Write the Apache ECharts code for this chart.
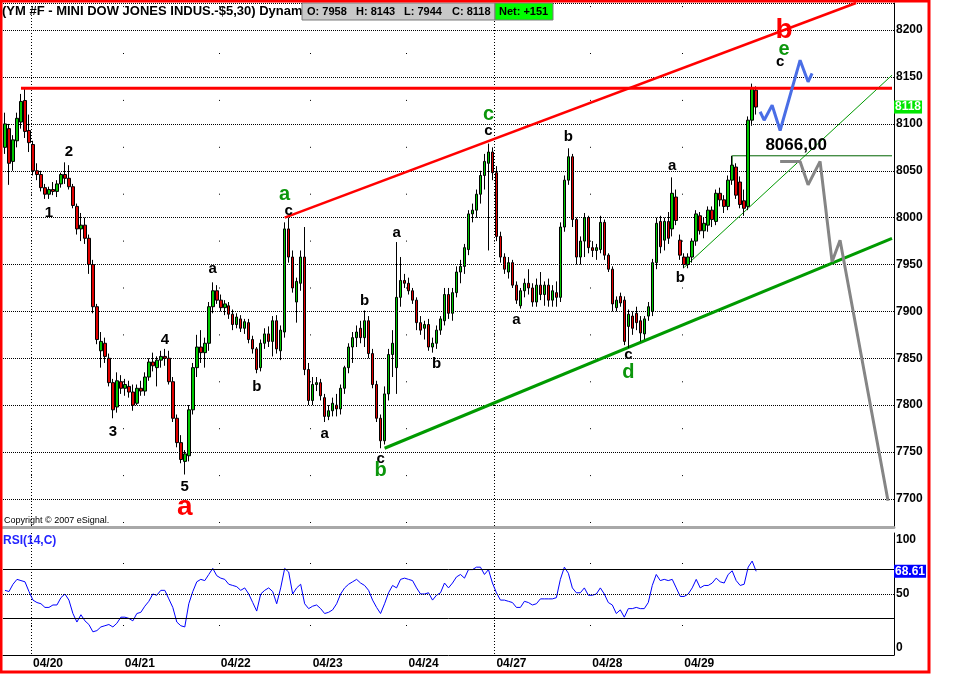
<!DOCTYPE html>
<html><head><meta charset="utf-8">
<script src="https://cdn.jsdelivr.net/npm/echarts@6/dist/echarts.min.js"></script>
<style>html,body{margin:0;padding:0;background:#fff}#c{width:960px;height:674px}</style>
</head><body><div id="c"></div>
<script>
// ---------- data ----------
const slotCount = 223;                       // bar slots incl. projection space
const dayLabels = ['04/20','04/21','04/22','04/23','04/24','04/27','04/28','04/29'];
const dayStartIdx = [7,30,54,77,101,123,147,170];
const weekStartIdx = [7,123];
// [open, high, low, close]
const ohlc = [
[8075,8112,8068,8100],[8095,8100,8035,8058],[8060,8088,8050,8083],[8082,8112,8075,8106],[8102,8132,8095,8124],
[8125,8138,8085,8092],[8093,8110,8070,8080],[8078,8082,8045,8050],[8050,8058,8040,8046],[8046,8050,8028,8032],
[8032,8036,8020,8025],[8025,8033,8020,8030],[8030,8038,8024,8028],[8028,8040,8022,8036],[8036,8048,8032,8046],
[8046,8059,8036,8042],[8042,8056,8030,8033],[8033,8036,8010,8013],[8012,8015,7982,7988],[7988,8005,7975,7992],
[7992,8000,7972,7978],[7978,7982,7940,7950],[7950,7955,7898,7905],[7905,7908,7865,7870],[7858,7878,7840,7868],
[7866,7872,7845,7852],[7850,7855,7820,7824],[7824,7828,7786,7795],[7798,7835,7792,7826],[7825,7832,7812,7818],
[7818,7828,7810,7822],[7820,7826,7808,7814],[7814,7822,7794,7800],[7802,7822,7800,7818],[7818,7826,7810,7815],
[7815,7835,7810,7830],[7830,7850,7826,7846],[7846,7856,7836,7842],[7840,7852,7820,7848],[7848,7858,7840,7852],
[7852,7860,7842,7850],[7850,7858,7822,7825],[7825,7830,7782,7786],[7786,7790,7755,7760],[7760,7768,7738,7742],
[7740,7752,7726,7748],[7746,7800,7740,7795],[7795,7845,7790,7840],[7840,7875,7830,7862],[7862,7880,7845,7856],
[7856,7872,7840,7866],[7866,7910,7858,7905],[7905,7931,7898,7922],[7922,7928,7908,7912],[7912,7918,7900,7904],
[7904,7912,7896,7908],[7906,7910,7892,7897],[7897,7902,7880,7886],[7886,7898,7882,7894],[7892,7896,7878,7882],
[7882,7892,7876,7889],[7888,7892,7866,7870],[7870,7874,7855,7860],[7860,7862,7834,7838],[7840,7870,7836,7866],
[7866,7882,7860,7876],[7876,7884,7862,7868],[7868,7895,7852,7890],[7890,7896,7855,7860],[7858,7885,7848,7880],
[7878,7995,7872,7988],[7988,8000,7952,7958],[7958,7965,7920,7925],[7910,7936,7888,7932],[7930,7965,7922,7958],
[7958,7990,7832,7838],[7838,7845,7800,7805],[7805,7830,7800,7822],[7822,7830,7815,7824],[7824,7828,7805,7810],
[7808,7812,7782,7788],[7788,7800,7784,7794],[7794,7808,7788,7802],[7800,7812,7788,7796],[7796,7822,7790,7818],
[7818,7842,7812,7840],[7840,7866,7834,7862],[7862,7878,7845,7872],[7872,7885,7862,7878],[7882,7890,7866,7872],
[7872,7901,7862,7890],[7890,7895,7850,7855],[7855,7860,7818,7822],[7822,7826,7782,7786],[7786,7790,7754,7762],
[7762,7820,7758,7812],[7812,7860,7805,7854],[7854,7880,7830,7866],[7840,7974,7812,7915],[7915,7958,7905,7933],
[7933,7940,7925,7930],[7930,7936,7918,7922],[7922,7925,7908,7912],[7912,7915,7880,7888],[7888,7895,7875,7880],
[7882,7890,7870,7886],[7886,7892,7858,7862],[7862,7872,7856,7866],[7866,7885,7860,7880],[7880,7895,7875,7892],
[7890,7925,7885,7918],[7918,7925,7892,7898],[7898,7925,7890,7920],[7920,7948,7915,7942],[7942,7955,7930,7948],
[7948,7972,7940,7968],[7966,8008,7960,8004],[8004,8015,7995,8008],[8008,8030,8000,8025],[8025,8050,8015,8045],
[8045,8068,8030,8060],[8058,8079,7965,8070],[8070,8075,8040,8048],[8048,8055,7975,7980],[7980,7985,7952,7958],
[7958,7962,7940,7945],[7942,7958,7935,7952],[7952,7955,7925,7928],[7928,7932,7908,7912],[7906,7925,7903,7922],
[7922,7935,7915,7930],[7930,7945,7918,7925],[7925,7930,7905,7910],[7910,7935,7905,7928],[7928,7942,7912,7918],
[7918,7932,7906,7928],[7928,7935,7905,7912],[7912,7928,7905,7922],[7920,7932,7905,7915],[7915,7995,7910,7990],
[7990,8045,7985,8040],[8040,8074,8035,8065],[8065,8068,7990,7998],[7998,8000,7950,7958],[7958,7980,7950,7975],
[7975,8005,7958,8000],[8000,8002,7962,7968],[7968,7975,7958,7965],[7965,7972,7955,7968],[7966,8002,7962,7995],
[7995,7998,7955,7960],[7960,7962,7942,7945],[7945,7948,7900,7908],[7904,7916,7900,7912],[7916,7920,7905,7909],
[7912,7916,7864,7868],[7884,7902,7861,7897],[7895,7900,7875,7882],[7898,7905,7880,7888],[7890,7895,7868,7877],
[7876,7895,7870,7892],[7895,7910,7890,7905],[7900,7956,7895,7952],[7952,8000,7945,7994],[7996,8002,7962,7969],
[7976,8000,7965,7996],[7996,8006,7972,7978],[7988,8043,7980,8026],[8022,8030,7992,7997],[7976,7982,7955,7960],
[7958,7962,7946,7950],[7950,7962,7946,7958],[7958,7978,7952,7975],[7975,8008,7970,8004],[8002,8006,7982,7986],
[7986,8000,7978,7994],[7992,8012,7985,8008],[8008,8012,7990,7998],[7996,8030,7992,8026],[8026,8032,8012,8019],
[8019,8024,8005,8012],[8012,8045,8008,8040],[8040,8066,8035,8056],[8054,8058,8020,8024],[8038,8044,8010,8014],
[8018,8030,8002,8010],[8012,8108,8008,8104],[8104,8143,8098,8138],[8136,8140,8110,8118]
];
const rsi = [
53,52,58,62,61,60,52,45,43,42,39,39,41,41,47,50,45,34,27,33,
28,25,19,20,23,24,25,23,26,31,31,30,28,34,35,40,44,50,49,53,
53,46,39,27,24,23,42,52,60,62,61,66,71,65,63,62,58,57,56,53,
55,50,43,36,50,53,55,52,42,55,71,68,50,55,58,42,38,40,41,38,
34,35,37,42,50,55,58,60,62,59,57,53,45,39,34,42,51,57,55,62,
63,62,61,55,50,50,51,45,49,51,59,55,59,64,66,63,70,70,72,72,
66,70,59,51,45,45,44,43,39,39,44,43,41,42,46,46,46,46,47,62,
72,67,55,51,51,55,49,49,50,55,50,43,41,34,37,31,38,38,39,38,
38,43,57,66,61,62,61,62,55,48,48,50,55,62,55,57,57,59,63,60,
59,66,69,61,57,58,72,77,68.61
];
const lastPrice = 8118;
const lastRsi = 68.61;
const rsiLevels = [70, 30];
const rsiMid = 50;
// overlay lines: [slot index, price]
const resistanceLine = [[4,8138],[222,8138]];
const upperChannel = [[70,8000],[213,8229]];
const lowerChannel = [[95,7754],[222,7978]];
const supportLine = [[170,7947],[222,8152]];
const level8066 = [[182,8054],[182,8066],[222,8066]];
const bullPath = [[189,8113],[190,8104],[192,8120],[194,8093],[199,8168],[201,8145],[202,8154]];
const bearPath = [[194,8060],[199,8060],[201,8035],[204,8060],[207,7953],[209,7976],[221,7698]];
// wave labels: [slot index, price, text]
const blackLabels = [
[11,8005,'1'],[16,8070,'2'],[27,7771,'3'],[40,7870,'4'],[45,7713,'5'],
[52,7945,'a'],[63,7819,'b'],[71,8007,'c'],[80,7769,'a'],[90,7911,'b'],[94,7743,'c'],
[98,7984,'a'],[108,7844,'b'],[121,8093,'c'],[128,7891,'a'],[141,8086,'b'],[156,7854,'c'],
[167,8055,'a'],[169,7936,'b'],[194,8166,'c']
];
const levelLabels = [[198,8077,'8066,00']];
const greenLabels = [[70,8025,'a'],[94,7730,'b'],[121,8110,'c'],[156,7835,'d'],[195,8179,'e']];
const redLabels = [[45,7691,'a'],[195,8200,'b']];

// ---------- chart ----------
const FONT = 'Arial, "Liberation Sans", sans-serif';
const CLEAR = 'rgba(0,0,0,0)';
const cats = Array.from({length: slotCount}, (_, i) => 's' + i);
const isDay = (i) => dayStartIdx.indexOf(i) >= 0;
const isWeek = (i) => weekStartIdx.indexOf(i) >= 0;
const toLabelData = arr => arr.map(r => ({value: [r[0], r[1]], name: r[2]}));
const labelSeries = (arr, color, size) => ({
  type: 'scatter', xAxisIndex: 0, yAxisIndex: 0, silent: true, z: 10,
  symbolSize: 0, itemStyle: {color: color, opacity: 1},
  data: toLabelData(arr),
  label: {show: true, position: 'inside', formatter: '{b}', color: color, opacity: 1,
          textBorderWidth: 0, textBorderColor: CLEAR, textShadowBlur: 0,
          fontSize: size, fontWeight: 'bold', fontFamily: FONT}
});
const lineSeries = (data, color, width, z) => ({
  type: 'line', xAxisIndex: 0, yAxisIndex: 0, data: data, symbol: 'none', silent: true,
  z: z || 3, lineStyle: {color: color, width: width}
});

const chart = echarts.init(document.getElementById('c'), null, {renderer: 'canvas'});
chart.setOption({
  animation: false,
  backgroundColor: '#fff',
  grid: [
    {left: 3, right: 66, top: 3, height: 524},
    {left: 3, right: 66, top: 533, height: 122}
  ],
  xAxis: [
    {type: 'category', gridIndex: 0, data: cats, boundaryGap: true,
     axisLine: {show: true, lineStyle: {color: '#a8a8a8', width: 3}},
     axisTick: {show: false}, axisLabel: {show: false},
     splitLine: {show: true, interval: isDay, lineStyle: {color: '#000', width: 1, type: [1, 45.9], dashOffset: 43.8}}},
    {type: 'category', gridIndex: 0, data: cats, boundaryGap: true, position: 'top',
     axisLine: {show: false}, axisTick: {show: false}, axisLabel: {show: false},
     splitLine: {show: true, interval: isWeek, lineStyle: {color: '#000', width: 1, type: [1, 2]}}},
    {type: 'category', gridIndex: 1, data: cats, boundaryGap: true,
     axisLine: {show: true, lineStyle: {color: '#000', width: 1}},
     axisTick: {show: false},
     axisLabel: {show: true, interval: isDay, align: 'left', margin: 3,
       formatter: (v, i) => { const k = dayStartIdx.indexOf(i); return k >= 0 ? dayLabels[k] : ''; },
       color: '#000', fontSize: 12, fontWeight: 'bold', fontFamily: FONT},
     splitLine: {show: true, interval: isDay, lineStyle: {color: '#000', width: 1, type: [1, 61], dashOffset: 32}}},
    {type: 'category', gridIndex: 1, data: cats, boundaryGap: true, position: 'top',
     axisLine: {show: false}, axisTick: {show: false}, axisLabel: {show: false},
     splitLine: {show: true, interval: isWeek, lineStyle: {color: '#000', width: 1, type: [1, 2]}}}
  ],
  yAxis: [
    {type: 'value', gridIndex: 0, position: 'right', min: 7670, max: 8229,
     splitNumber: 11, minInterval: 50, maxInterval: 50,
     axisLine: {show: true, lineStyle: {color: '#000'}}, axisTick: {show: false},
     axisLabel: {showMinLabel: false, showMaxLabel: false, margin: 2, color: '#000',
                 formatter: v => String(v),
                 fontSize: 12, fontWeight: 'bold', fontFamily: FONT},
     splitLine: {show: true, lineStyle: {color: '#000', width: 1, type: [1, 1]}}},
    {type: 'value', gridIndex: 1, position: 'right', min: 0, max: 100, interval: 50,
     axisLine: {show: true, lineStyle: {color: '#000'}}, axisTick: {show: false},
     splitLine: {show: false},
     axisLabel: {margin: 2, color: '#000',
       formatter: v => v === 100 ? '{t|100}' : (v === 0 ? '{b|0}' : '{m|' + v + '}'),
       rich: {
         t: {padding: [14, 0, 0, 0], fontSize: 12, fontWeight: 'bold', fontFamily: FONT, color: '#000'},
         b: {padding: [0, 0, 14, 0], fontSize: 12, fontWeight: 'bold', fontFamily: FONT, color: '#000'},
         m: {fontSize: 12, fontWeight: 'bold', fontFamily: FONT, color: '#000'}
       }}}
  ],
  series: [
    lineSeries(lowerChannel, '#009a00', 3, 2),
    lineSeries(supportLine, '#009a00', 1, 2),
    lineSeries(level8066, '#006400', 1, 2),
    lineSeries(upperChannel, '#ff0000', 2.5, 2),
    {type: 'candlestick', xAxisIndex: 0, yAxisIndex: 0, z: 4,
     data: ohlc.map(r => [r[0], r[3], r[2], r[1]]),
     barWidth: 3,
     itemStyle: {color: '#00c800', color0: '#e00000', borderColor: '#000', borderColor0: '#000', borderWidth: 1},
     markLine: {silent: true, symbol: ['none', 'none'],
       data: [{yAxis: lastPrice, lineStyle: {color: CLEAR, width: 1},
         label: {show: true, position: 'end', distance: 0, formatter: String(lastPrice),
                 backgroundColor: '#00e600', color: '#fff', fontSize: 12, fontWeight: 'bold',
                 fontFamily: FONT, padding: [1, 1, 0, 1]}}]}},
    lineSeries(resistanceLine, '#ff0000', 3, 5),
    lineSeries(bullPath, '#4a6ee6', 3, 6),
    lineSeries(bearPath, '#858585', 3, 6),
    labelSeries(blackLabels, '#000000', 15),
    labelSeries(levelLabels, '#000000', 17),
    labelSeries(greenLabels, '#0c960c', 20),
    labelSeries(redLabels, '#ff0000', 28),
    {type: 'line', xAxisIndex: 2, yAxisIndex: 1, data: rsi, symbol: 'none', silent: true,
     lineStyle: {color: '#0000ff', width: 1}, z: 4,
     markLine: {silent: true, symbol: ['none', 'none'], label: {show: false},
       data: [
         {yAxis: rsiLevels[0], lineStyle: {color: '#000', width: 1, type: 'solid'}},
         {yAxis: rsiLevels[1], lineStyle: {color: '#000', width: 1, type: 'solid'}},
         {yAxis: rsiMid, lineStyle: {color: '#000', width: 1, type: [1, 1]}},
         {yAxis: lastRsi, lineStyle: {color: CLEAR, width: 1},
          label: {show: true, position: 'end', distance: 0, formatter: String(lastRsi),
                  backgroundColor: '#0000ff', color: '#fff', fontSize: 12, fontWeight: 'bold',
                  fontFamily: FONT, padding: [1, 1, 0, 1]}}
       ]}}
  ],
  graphic: [
    {type: 'text', x: 2, y: 11, z: 20, silent: true,
     style: {text: '(YM #F - MINI DOW JONES INDUS.-$5,30) Dynam', fill: '#000',
             fontSize: 13, fontWeight: 'bold', fontFamily: FONT, verticalAlign: 'middle'}},
    {type: 'rect', z: 21, silent: true, shape: {x: 302, y: 3, width: 193, height: 17},
     style: {fill: '#c8c8c8', stroke: '#7a7a7a', lineWidth: 1}},
    {type: 'rect', z: 21, silent: true, shape: {x: 495, y: 3, width: 58, height: 17},
     style: {fill: '#00ff00', stroke: '#7a7a7a', lineWidth: 1}},
    {type: 'text', x: 307, y: 12, z: 22, silent: true, style: {text: 'O: 7958', fill: '#000', fontSize: 11, fontWeight: 'bold', fontFamily: FONT, verticalAlign: 'middle'}},
    {type: 'text', x: 356, y: 12, z: 22, silent: true, style: {text: 'H: 8143', fill: '#000', fontSize: 11, fontWeight: 'bold', fontFamily: FONT, verticalAlign: 'middle'}},
    {type: 'text', x: 404, y: 12, z: 22, silent: true, style: {text: 'L: 7944', fill: '#000', fontSize: 11, fontWeight: 'bold', fontFamily: FONT, verticalAlign: 'middle'}},
    {type: 'text', x: 452, y: 12, z: 22, silent: true, style: {text: 'C: 8118', fill: '#000', fontSize: 11, fontWeight: 'bold', fontFamily: FONT, verticalAlign: 'middle'}},
    {type: 'text', x: 499, y: 12, z: 22, silent: true, style: {text: 'Net: +151', fill: '#000', fontSize: 11, fontWeight: 'bold', fontFamily: FONT, verticalAlign: 'middle'}},
    {type: 'text', x: 4, y: 521, z: 20, silent: true,
     style: {text: 'Copyright \u00a9 2007 eSignal.', fill: '#000', fontSize: 9, fontFamily: FONT, verticalAlign: 'middle'}},
    {type: 'text', x: 3, y: 541, z: 20, silent: true,
     style: {text: 'RSI(14,C)', fill: '#2424ff', fontSize: 12, fontWeight: 'bold', fontFamily: FONT, verticalAlign: 'middle'}},
    {type: 'rect', z: 30, silent: true, shape: {x: 1, y: 1, width: 928, height: 671},
     style: {fill: 'none', stroke: '#ff0000', lineWidth: 3}}
  ]
});
</script>
</body></html>
